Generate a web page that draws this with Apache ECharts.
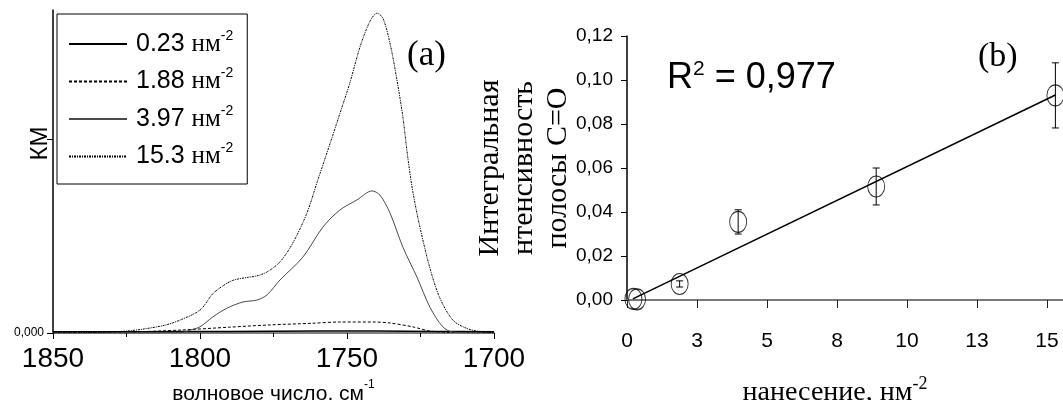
<!DOCTYPE html>
<html>
<head>
<meta charset="utf-8">
<script src="https://cdn.jsdelivr.net/npm/echarts@6/dist/echarts.min.js"></script>
<style>
  html, body { margin: 0; padding: 0; background: #fff; }
  #chart { width: 1063px; height: 400px; }
</style>
</head>
<body>
<div id="chart"></div>
<script>
// ---- Panel (a): KM spectra of the C=O band for four loadings ----
const loadings = ['0.23', '1.88', '3.97', '15.3'];

const wn023 = [1850, 1820, 1790, 1760, 1740, 1720, 1700];
const km023 = [0.004, 0.004, 0.005, 0.006, 0.006, 0.005, 0.004];

const wn188 = [1850, 1835, 1823.8, 1806.8, 1790, 1776.2, 1762, 1752.4, 1741.2, 1735.4, 1727.6, 1721.8, 1715, 1700];
const km188 = [0.001, 0.002, 0.003, 0.009, 0.018, 0.025, 0.030, 0.034, 0.034, 0.031, 0.019, 0.006, 0.002, 0.001];

const wn397 = [1850, 1820, 1806, 1803.4, 1800, 1795.6, 1790.8, 1785.4, 1780.6, 1777.2, 1772.8, 1765, 1758.2, 1752.4, 1746.6, 1741.5, 1738.8, 1735.4, 1731, 1726.2, 1721.8, 1717.4, 1714, 1700];
const km397 = [0.000, 0.000, 0.002, 0.009, 0.019, 0.050, 0.077, 0.096, 0.102, 0.118, 0.164, 0.235, 0.328, 0.381, 0.412, 0.440, 0.427, 0.372, 0.266, 0.173, 0.080, 0.019, 0.003, 0.000];

const wn153 = [1850, 1835, 1825, 1819.4, 1812, 1806.8, 1800, 1795.6, 1792.2, 1788.8, 1784, 1780.6, 1777.2, 1772.8, 1768.4, 1763.6, 1760.2, 1756, 1752.4, 1749, 1745.6, 1742.2, 1739.8, 1737.8, 1735.4, 1733, 1731, 1729.3, 1727.6, 1725.2, 1721.8, 1718.4, 1714, 1709.2, 1704, 1700];
const km153 = [0.001, 0.002, 0.006, 0.012, 0.024, 0.040, 0.071, 0.122, 0.146, 0.163, 0.172, 0.177, 0.189, 0.220, 0.279, 0.372, 0.466, 0.580, 0.680, 0.775, 0.885, 0.965, 0.990, 0.975, 0.898, 0.783, 0.669, 0.542, 0.437, 0.328, 0.201, 0.108, 0.040, 0.014, 0.003, 0.001];

const wnTicks = [1700, 1750, 1800, 1850];

// ---- Panel (b): integral intensity of the C=O band vs loading ----
const doseX = [0.23, 0.36, 1.88, 3.97, 8.9, 15.3];
const intensity = [0.0005, 0.0003, 0.0073, 0.0355, 0.0516, 0.0930];
const intensityErr = [0, 0, 0.0014, 0.0055, 0.0084, 0.0148];
const fitX = [0.21, 15.3];
const fitY = [0.0005, 0.0932];
const doseTicks = [0, 2.5, 5, 7.5, 10, 12.5, 15];

const SANS = '"Liberation Sans", Arial, sans-serif';
const SANS_NARROW = '"Liberation Sans Narrow", "Arial Narrow", "Liberation Sans", sans-serif';
const SERIF = '"Liberation Serif", "Times New Roman", serif';

const pairs = (xs, ys) => xs.map((x, i) => [x, ys[i]]);

const spectrumStyles = [
  { color: '#000', width: 1.5, type: 'solid' },
  { color: '#000', width: 1, type: [3, 2] },
  { color: '#4a4a4a', width: 1, type: 'solid' },
  { color: '#000', width: 1, type: [2, 1, 1, 1] }
];
const spectra = [[wn023, km023], [wn188, km188], [wn397, km397], [wn153, km153]];

const chart = echarts.init(document.getElementById('chart'), null, { renderer: 'canvas' });

const option = {
  backgroundColor: '#fff',
  animation: false,
  grid: [
    { left: 53, top: 10, width: 441, height: 323, outerBoundsMode: 'none', containLabel: false },
    { left: 627, top: 36, width: 440, height: 264, outerBoundsMode: 'none', containLabel: false }
  ],
  legend: {
    orient: 'vertical',
    left: 57,
    top: 14,
    padding: [15, 14, 15, 11],
    itemWidth: 58,
    itemHeight: 14,
    itemGap: 10,
    borderColor: '#000',
    borderWidth: 1,
    data: loadings,
    itemStyle: { color: 'rgba(0,0,0,0)', borderColor: 'rgba(0,0,0,0)', borderWidth: 0 },
    formatter: (name) => `{n|${name} }{u|нм}{s|-2}`,
    textStyle: {
      color: '#000',
      padding: [0, 0, 0, 4],
      rich: {
        n: { fontFamily: SANS, fontSize: 25, lineHeight: 30, color: '#000' },
        u: { fontFamily: SERIF, fontSize: 25, lineHeight: 30, color: '#000' },
        s: { fontFamily: SANS, fontSize: 14, lineHeight: 14, verticalAlign: 'top', color: '#000' }
      }
    }
  },
  title: [
    {
      text: '(a)', left: 407, top: 38, padding: 0,
      textStyle: { fontFamily: SERIF, fontSize: 35, fontWeight: 'normal', color: '#000' }
    },
    {
      text: '(b)', left: 978, top: 40, padding: 0,
      textStyle: { fontFamily: SERIF, fontSize: 34, fontWeight: 'normal', color: '#000' }
    },
    {
      text: '{r|R}{s|2}{r| = 0,977}', left: 667, top: 59, padding: 0,
      textStyle: {
        fontWeight: 'normal',
        rich: {
          r: { fontFamily: SANS, fontSize: 36, fontWeight: 'normal', lineHeight: 38, color: '#000' },
          s: { fontFamily: SANS, fontSize: 21, fontWeight: 'normal', lineHeight: 21, verticalAlign: 'top', color: '#000' }
        }
      }
    }
  ],
  xAxis: [
    {
      gridIndex: 0,
      type: 'value',
      min: 1700,
      max: 1850,
      interval: 50,
      inverse: true,
      splitLine: { show: false },
      axisLine: { lineStyle: { color: '#808080', width: 2 } },
      axisTick: { length: 6, lineStyle: { color: '#000', width: 1 } },
      minorTick: { show: true, splitNumber: 2, length: 4, lineStyle: { color: '#000', width: 1 } },
      axisLabel: {
        margin: 12,
        fontFamily: SANS_NARROW, fontSize: 28, color: '#000',
        customValues: wnTicks,
        formatter: (v) => String(v)
      },
      name: '{a|волновое число, см}{s|-1}',
      nameLocation: 'middle',
      nameGap: 46,
      nameMoveOverlap: false,
      nameTextStyle: {
        rich: {
          a: { fontFamily: SANS, fontSize: 21, lineHeight: 30, color: '#000' },
          s: { fontFamily: SANS, fontSize: 12, lineHeight: 12, verticalAlign: 'top', color: '#000' }
        }
      }
    },
    {
      gridIndex: 1,
      type: 'value',
      min: 0,
      max: 440 / 28,
      splitLine: { show: false },
      axisLine: { lineStyle: { color: '#7a7a7a', width: 2 } },
      axisTick: { length: 8, customValues: doseTicks, lineStyle: { color: '#222', width: 1 } },
      axisLabel: {
        margin: 31,
        fontFamily: SANS, fontSize: 21, color: '#000',
        customValues: doseTicks,
        formatter: (v) => String(Math.round(v))
      },
      name: '{a|нанесение, нм}{s|-2}',
      nameLocation: 'middle',
      nameGap: 75,
      nameMoveOverlap: false,
      nameTextStyle: {
        padding: [0, 24, 0, 0],
        rich: {
          a: { fontFamily: SERIF, fontSize: 28, lineHeight: 36, color: '#000' },
          s: { fontFamily: SERIF, fontSize: 18, lineHeight: 18, verticalAlign: 'top', color: '#000' }
        }
      }
    }
  ],
  yAxis: [
    {
      gridIndex: 0,
      type: 'value',
      min: 0,
      max: 1,
      splitLine: { show: false },
      axisLine: { lineStyle: { color: '#000', width: 1.5 } },
      axisTick: { length: 6, customValues: [0, 0.6], lineStyle: { color: '#000', width: 1 } },
      axisLabel: {
        margin: 9,
        fontFamily: SANS, fontSize: 12, color: '#000',
        customValues: [0],
        formatter: () => '0,000'
      },
      name: 'КМ',
      nameLocation: 'middle',
      nameGap: 1,
      nameMoveOverlap: false,
      nameTextStyle: { fontFamily: SANS, fontSize: 24, color: '#000', padding: [0, 0, 0, 56] }
    },
    {
      gridIndex: 1,
      type: 'value',
      min: 0,
      max: 0.12,
      interval: 0.02,
      splitLine: { show: false },
      axisLine: { lineStyle: { color: '#000', width: 1.5 } },
      axisTick: { length: 6, lineStyle: { color: '#000', width: 1 } },
      axisLabel: {
        margin: 14,
        fontFamily: SANS, fontSize: 19, color: '#000',
        formatter: (v) => v.toFixed(2).replace('.', ',')
      },
      name: 'Интегральная\nнтенсивность\nполосы C=O',
      nameLocation: 'middle',
      nameGap: 52,
      nameMoveOverlap: false,
      nameTextStyle: { fontFamily: SERIF, fontSize: 30, lineHeight: 34, color: '#000' }
    }
  ],
  series: [
    ...spectra.map(([xs, ys], i) => ({
      name: loadings[i],
      type: 'line',
      xAxisIndex: 0,
      yAxisIndex: 0,
      data: pairs(xs, ys),
      smooth: 0.3,
      symbol: 'none',
      lineStyle: spectrumStyles[i],
      itemStyle: { color: spectrumStyles[i].color },
      z: 3 + i
    })),
    {
      name: 'fit',
      type: 'line',
      xAxisIndex: 1,
      yAxisIndex: 1,
      data: pairs(fitX, fitY),
      symbol: 'none',
      lineStyle: { color: '#000', width: 1.5 },
      z: 3
    },
    {
      name: 'error',
      type: 'custom',
      xAxisIndex: 1,
      yAxisIndex: 1,
      data: doseX.map((x, i) => [x, intensity[i] - intensityErr[i], intensity[i] + intensityErr[i]])
        .filter((d) => d[2] > d[1]),
      encode: { x: 0, y: [1, 2] },
      renderItem: (params, api) => {
        const x = api.value(0);
        const top = api.coord([x, api.value(2)]);
        const bot = api.coord([x, api.value(1)]);
        const c = 3.5;
        const st = { stroke: '#000', lineWidth: 1 };
        return {
          type: 'group',
          children: [
            { type: 'line', shape: { x1: top[0], y1: top[1], x2: bot[0], y2: bot[1] }, style: st },
            { type: 'line', shape: { x1: top[0] - c, y1: top[1], x2: top[0] + c, y2: top[1] }, style: st },
            { type: 'line', shape: { x1: bot[0] - c, y1: bot[1], x2: bot[0] + c, y2: bot[1] }, style: st }
          ]
        };
      },
      z: 4
    },
    {
      name: 'points',
      type: 'scatter',
      xAxisIndex: 1,
      yAxisIndex: 1,
      data: pairs(doseX, intensity),
      symbol: 'circle',
      symbolSize: [17, 21],
      itemStyle: { color: 'rgba(0,0,0,0)', borderColor: '#000', borderWidth: 1 },
      z: 5
    }
  ]
};

chart.setOption(option);
</script>
</body>
</html>
